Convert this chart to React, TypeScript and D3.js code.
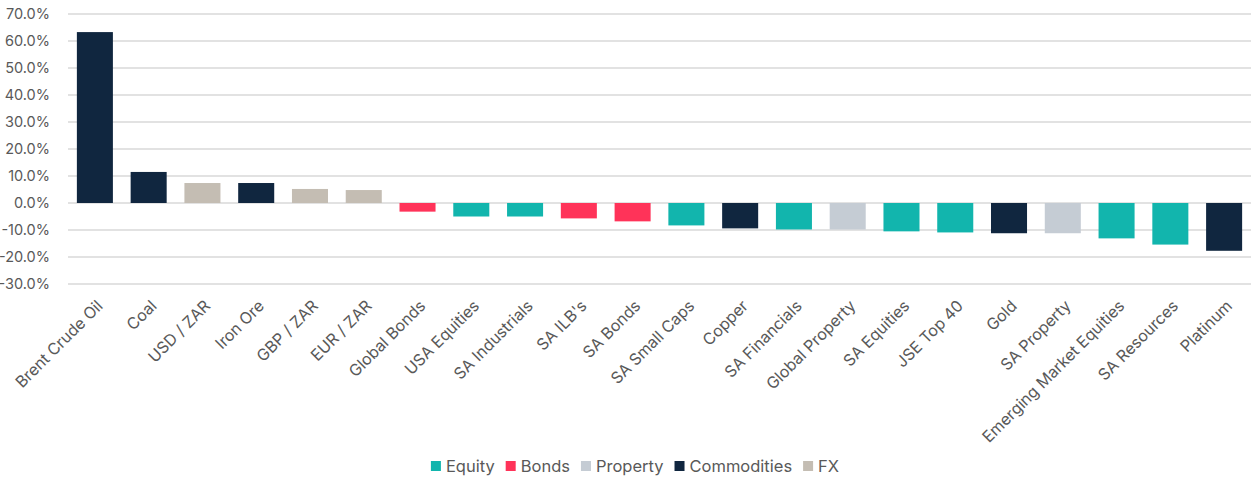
import * as React from 'react';
import { useEffect, useRef } from 'react';
import * as d3 from 'd3';

// categories, values (%), asset class
const categories = [
  'Brent Crude Oil', 'Coal', 'USD / ZAR', 'Iron Ore', 'GBP / ZAR', 'EUR / ZAR',
  'Global Bonds', 'USA Equities', 'SA Industrials', "SA ILB's", 'SA Bonds',
  'SA Small Caps', 'Copper', 'SA Financials', 'Global Property', 'SA Equities',
  'JSE Top 40', 'Gold', 'SA Property', 'Emerging Market Equities', 'SA Resources', 'Platinum',
];
const returns = [
  63.3, 11.5, 7.4, 7.4, 5.2, 4.8,
  -3.2, -5.0, -5.0, -5.7, -6.8,
  -8.3, -9.4, -9.8, -9.8, -10.5,
  -10.9, -11.2, -11.2, -13.1, -15.4, -17.7,
];
const assetClass = [
  'Commodities', 'Commodities', 'FX', 'Commodities', 'FX', 'FX',
  'Bonds', 'Equity', 'Equity', 'Bonds', 'Bonds',
  'Equity', 'Commodities', 'Equity', 'Property', 'Equity',
  'Equity', 'Commodities', 'Property', 'Equity', 'Equity', 'Commodities',
];
const legendClasses = ['Equity', 'Bonds', 'Property', 'Commodities', 'FX'];
const classColors = ['#12B5AD', '#FF3359', '#C5CCD4', '#10263F', '#C4BDB3'];
const yTicks = [-30, -20, -10, 0, 10, 20, 30, 40, 50, 60, 70];

const W = 1258;
const H = 486;
const FONT = 'Inter, "Open Sans", sans-serif';

export default function App() {
  const ref = useRef<SVGSVGElement>(null);

  useEffect(() => {
    const svg = d3.select(ref.current);
    svg.selectAll('*').remove();

    const x = d3.scaleBand<string>().domain(categories).range([68, 1251]).paddingInner(0.33).paddingOuter(0.165);
    const y = d3.scaleLinear().domain([-30, 70]).range([284, 14]);
    const color = d3.scaleOrdinal<string, string>().domain(legendClasses).range(classColors);

    // gridlines
    svg.append('g').selectAll('line').data(yTicks).enter().append('line')
      .attr('x1', 68).attr('x2', 1251)
      .attr('y1', (d) => y(d)).attr('y2', (d) => y(d))
      .attr('stroke', '#D9D9D9').attr('stroke-width', 1.3);

    // y labels
    svg.append('g').selectAll('text').data(yTicks).enter().append('text')
      .attr('x', 50).attr('y', (d) => y(d)).attr('dy', '0.35em')
      .attr('text-anchor', 'end')
      .attr('font-family', FONT).attr('font-size', 14.5).attr('fill', '#595959')
      .text((d) => d.toFixed(1) + '%');

    // bars
    svg.append('g').selectAll('rect').data(categories).enter().append('rect')
      .attr('x', (d) => x(d)!)
      .attr('width', x.bandwidth())
      .attr('y', (d, i) => y(Math.max(0, returns[i])))
      .attr('height', (d, i) => Math.abs(y(returns[i]) - y(0)))
      .attr('fill', (d, i) => color(assetClass[i]));

    // x labels
    svg.append('g').selectAll('text').data(categories).enter().append('text')
      .attr('transform', (d) => `translate(${x(d)! + x.bandwidth() / 2 + 5},${303}) rotate(-45)`)
      .attr('text-anchor', 'end')
      .attr('dy', '0.35em')
      .attr('font-family', FONT).attr('font-size', 16).attr('fill', '#595959')
      .text((d) => d);

    // legend
    const lg = svg.append('g');
    const items = lg.selectAll('g').data(legendClasses).enter().append('g');
    items.append('rect').attr('width', 10).attr('height', 10).attr('y', -5).attr('fill', (d) => color(d));
    items.append('text').attr('x', 15).attr('dy', '0.35em')
      .attr('font-family', FONT).attr('font-size', 16.5).attr('fill', '#595959')
      .text((d) => d);
    let offset = 0;
    items.each(function () {
      const g = d3.select(this);
      g.attr('transform', `translate(${offset},0)`);
      offset += (this as SVGGElement).getBBox().width + 11;
    });
    const total = offset - 11;
    lg.attr('transform', `translate(${(W - total) / 2 + 6},${466})`);
  }, []);

  return (
    <svg ref={ref} width={W} height={H}
      style={{ position: 'absolute', left: 0, top: 0, background: '#fff' }} />
  );
}
